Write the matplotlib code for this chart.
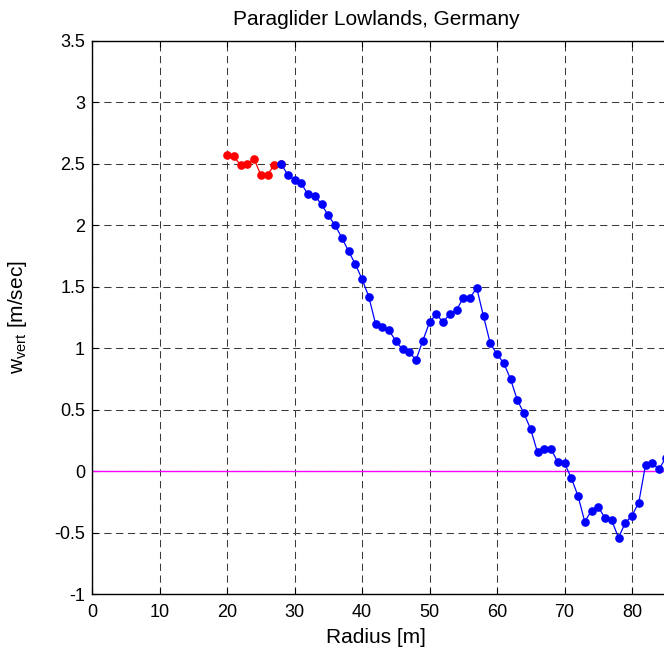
import numpy as np
import matplotlib
matplotlib.use("Agg")
import matplotlib.pyplot as plt

plt.rcParams['font.family'] = ['Liberation Sans', 'DejaVu Sans']
plt.rcParams['mathtext.fontset'] = 'custom'
plt.rcParams['mathtext.rm'] = 'Liberation Sans'
plt.rcParams['mathtext.it'] = 'Liberation Sans'
plt.rcParams['lines.scale_dashes'] = False

# Climb rate vs. radius, red = inner core section, blue = remainder
radius_red = [20, 21, 22, 23, 24, 25, 26, 27, 28]
wvert_red = [2.57, 2.56, 2.49, 2.50, 2.54, 2.41, 2.41, 2.49, 2.50]

radius_blue = list(range(28, 86))
wvert_blue = [2.50, 2.41, 2.37, 2.34, 2.25, 2.24, 2.17, 2.08, 2.00, 1.90,
              1.79, 1.685, 1.563, 1.42, 1.20, 1.17, 1.145, 1.06, 0.99, 0.97,
              0.905, 1.06, 1.21, 1.28, 1.21, 1.28, 1.31, 1.41, 1.41, 1.49,
              1.26, 1.04, 0.95, 0.88, 0.75, 0.58, 0.47, 0.34, 0.154, 0.18,
              0.18, 0.076, 0.065, -0.054, -0.20, -0.41, -0.32, -0.29, -0.38, -0.40,
              -0.54, -0.42, -0.36, -0.255, 0.05, 0.065, 0.016, 0.11]

x_ticks = [0, 10, 20, 30, 40, 50, 60, 70, 80]
y_ticks = [-1, -0.5, 0, 0.5, 1, 1.5, 2, 2.5, 3, 3.5]
y_tick_labels = ['-1', '-0.5', '0', '0.5', '1', '1.5', '2', '2.5', '3', '3.5']

W, H = 664, 652
fig = plt.figure(figsize=(W / 100, H / 100), dpi=100)
ax = fig.add_axes([92 / W, (H - 594.3) / H, 607.5 / W, (594.3 - 40.7) / H])

ax.set_xlim(0, 90)
ax.set_ylim(-1, 3.5)
ax.set_xticks(x_ticks)
ax.set_yticks(y_ticks)
ax.set_yticklabels(y_tick_labels)

ax.grid(True, color='#3a3a3a', linewidth=0.75, linestyle=(0, (5.2, 3.3)), zorder=1)
ax.set_axisbelow(True)

ax.axhline(0, color='#ff00ff', linewidth=1.0, zorder=2)

ax.plot(radius_red, wvert_red, '-o', color='#ff0000', markersize=5.2,
        linewidth=0.9, zorder=3)
ax.plot(radius_blue, wvert_blue, '-o', color='#0000ff', markersize=5.2,
        linewidth=0.9, zorder=4)

ax.tick_params(direction='in', top=True, right=True, length=4, width=0.8,
               labelsize=13, colors='black')
ax.tick_params(axis='x', pad=7)
ax.tick_params(axis='y', pad=5)
for s in ax.spines.values():
    s.set_linewidth(1.0)
    s.set_color('black')

ax.set_title('Paraglider Lowlands, Germany', fontsize=15, x=0.4675, pad=11)
ax.set_xlabel('Radius [m]', fontsize=15, labelpad=5)
ax.xaxis.label.set_x(0.4675)
ax.set_ylabel(r'w$_{\mathrm{vert}}$ [m/sec]', fontsize=15, labelpad=18)

fig.savefig('out.png', dpi=100)
